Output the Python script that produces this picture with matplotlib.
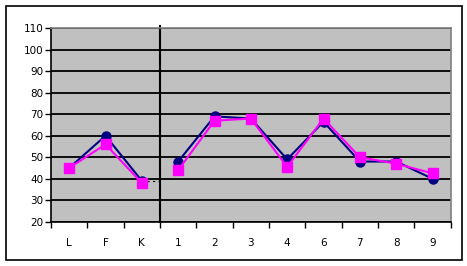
import matplotlib.pyplot as plt
import numpy as np
from matplotlib.patches import Rectangle

# Categories and the two series (break between K and 1)
categories = ['L', 'F', 'K', '1', '2', '3', '4', '6', '7', '8', '9']
navy_vals = [45, 60, 39, 48, 69, 68, 49, 66.5, 48, 48, 40]
magenta_vals = [45, 56, 38, 44, 67, 68, 45.5, 68, 50, 47, 42.5]
split_at = 3  # first index of the second block

plt.rcParams['font.family'] = ['DejaVu Sans']

fig = plt.figure(figsize=(4.67, 2.66), dpi=100)
ax = fig.add_axes([51 / 467, 1 - 221.7 / 266, (450.7 - 51) / 467, (221.7 - 28.3) / 266])
ax.set_facecolor('#C0C0C0')

x = np.arange(len(categories))
for sl in (slice(0, split_at), slice(split_at, None)):
    ax.plot(x[sl], navy_vals[sl], color='#000080', lw=1.5, marker='o', ms=6.5,
            zorder=3, clip_on=False)
    ax.plot(x[sl], magenta_vals[sl], color='#FF00FF', lw=1.5, marker='s', ms=6.5,
            zorder=4, clip_on=False)

# dotted stub after K
ax.plot([split_at - 1 + 0.15, split_at - 0.5], [39, 39], color='black', lw=0.8,
        ls=(0, (2, 3)), zorder=2)

# divider between the two blocks
ax.plot([split_at - 0.5, split_at - 0.5], [20, 111], color='black', lw=1.5,
        zorder=2, clip_on=False)

ax.set_xlim(-0.5, len(categories) - 0.5)
ax.set_ylim(20, 110)
ax.set_yticks(np.arange(20, 111, 10))
ax.yaxis.grid(True, color='black', lw=1.3)
ax.set_axisbelow(True)

ax.set_xticks(x)
ax.set_xticklabels(categories)
ax.set_xticks(np.arange(-0.5, len(categories), 1), minor=True)
ax.tick_params(axis='x', which='major', length=0, pad=12, labelsize=7.5)
ax.tick_params(axis='x', which='minor', length=4, width=1, direction='out')
ax.tick_params(axis='y', length=4, width=1, direction='out', pad=1.5, labelsize=7.5)

for side in ('top', 'right'):
    ax.spines[side].set_color('#808080')
    ax.spines[side].set_linewidth(1.2)
for side in ('left', 'bottom'):
    ax.spines[side].set_color('black')
    ax.spines[side].set_linewidth(1.2)

# outer chart border
fig.patches.append(Rectangle((6 / 467, 1 - 260 / 266), (461.5 - 6) / 467, (260 - 6) / 266,
                             transform=fig.transFigure, fill=False, ec='black', lw=1.2))

fig.savefig('out.png', dpi=100)
plt.close(fig)
